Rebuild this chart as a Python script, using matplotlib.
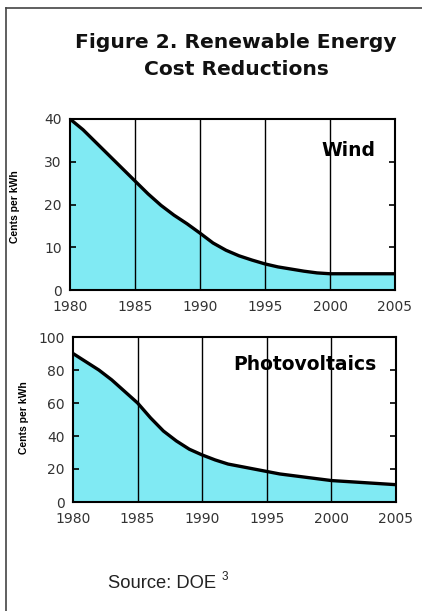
import matplotlib
matplotlib.use("Agg")
import matplotlib.pyplot as plt
from matplotlib.lines import Line2D

years = list(range(1980, 2006))
wind_cost = [40, 37.5, 34.5, 31.5, 28.5, 25.5, 22.5, 19.8, 17.5, 15.5, 13.3,
             11.0, 9.3, 8.0, 7.0, 6.1, 5.4, 4.9, 4.4, 4.0, 3.8,
             3.8, 3.8, 3.8, 3.8, 3.8]
pv_cost = [90, 85, 80, 74, 67, 60, 51, 43, 37, 32, 28.5,
           25.5, 23, 21.5, 20, 18.5, 17, 16, 15, 14, 13,
           12.5, 12, 11.5, 11, 10.5]
x_ticks = [1980, 1985, 1990, 1995, 2000, 2005]
wind_yticks = [0, 10, 20, 30, 40]
pv_yticks = [0, 20, 40, 60, 80, 100]

FILL = '#80eaf3'
W, H = 422, 611
fig = plt.figure(figsize=(W / 100, H / 100), dpi=100)
fig.patch.set_facecolor('white')

def fx(px):
    return px / W

def fy(py):
    return 1 - py / H

# border lines (left and top)
fig.add_artist(Line2D([fx(5.5), fx(5.5)], [0, fy(7.5)], color='#444444', lw=1.2, transform=fig.transFigure))
fig.add_artist(Line2D([fx(5.5), 1], [fy(7.5), fy(7.5)], color='#444444', lw=1.2, transform=fig.transFigure))

title_font = ['DejaVu Sans']
fig.text(fx(236), fy(48), 'Figure 2. Renewable Energy', ha='center', va='baseline',
         fontsize=14.6, fontweight='bold', family=title_font, color='#111111')
fig.text(fx(236), fy(75), 'Cost Reductions', ha='center', va='baseline',
         fontsize=14.6, fontweight='bold', family=title_font, color='#111111')

TICK_FONT = ['DejaVu Sans']

def make_panel(rect, values, yticks, ymax, label, label_xy, ylab_xy):
    ax = fig.add_axes(rect)
    ax.fill_between(years, values, 0, color=FILL, zorder=1)
    ax.plot(years, values, color='black', lw=2.4, zorder=3, solid_capstyle='butt')
    for xv in x_ticks[1:-1]:
        ax.axvline(xv, color='black', lw=1.0, zorder=2)
    ax.set_xlim(1980, 2005)
    ax.set_ylim(0, ymax)
    ax.set_xticks(x_ticks)
    ax.set_xticklabels([str(v) for v in x_ticks], fontsize=10, color='#333333', family=TICK_FONT)
    ax.set_yticks(yticks)
    ax.set_yticklabels([str(v) for v in yticks], fontsize=10, color='#333333', family=TICK_FONT)
    ax.tick_params(axis='y', direction='in', length=4, width=1.2, left=True, right=True, pad=6)
    ax.tick_params(axis='x', direction='in', length=0, pad=7)
    for s in ax.spines.values():
        s.set_linewidth(1.5)
        s.set_color('black')
    fig.text(fx(label_xy[0]), fy(label_xy[1]), label, ha='center', va='center',
             fontsize=13.5, fontweight='bold', family=['DejaVu Sans'], zorder=4)
    fig.text(fx(ylab_xy[0]), fy(ylab_xy[1]), 'Cents per kWh', rotation=90, ha='center', va='center',
             fontsize=7.5, fontweight='bold', family=['Liberation Sans', 'DejaVu Sans'])
    return ax

make_panel([fx(70), fy(290), fx(395) - fx(70), fy(119) - fy(290)], wind_cost, wind_yticks, 40,
           'Wind', (348, 151), (15, 207))
make_panel([fx(73), fy(502), fx(396) - fx(73), fy(337) - fy(502)], pv_cost, pv_yticks, 100,
           'Photovoltaics', (305, 364), (24, 418))

src = fig.text(fx(108), fy(588), 'Source: DOE', ha='left', va='baseline', fontsize=13.2,
               family=['Liberation Sans', 'DejaVu Sans'], color='#222222')
renderer = fig.canvas.get_renderer()
bb = src.get_window_extent(renderer=renderer)
fig.text(fx(bb.x1 + 5), fy(580), '3', ha='left', va='baseline', fontsize=8.5,
         family=['Liberation Sans', 'DejaVu Sans'], color='#222222')

fig.savefig('out.png', dpi=100, facecolor='white')
